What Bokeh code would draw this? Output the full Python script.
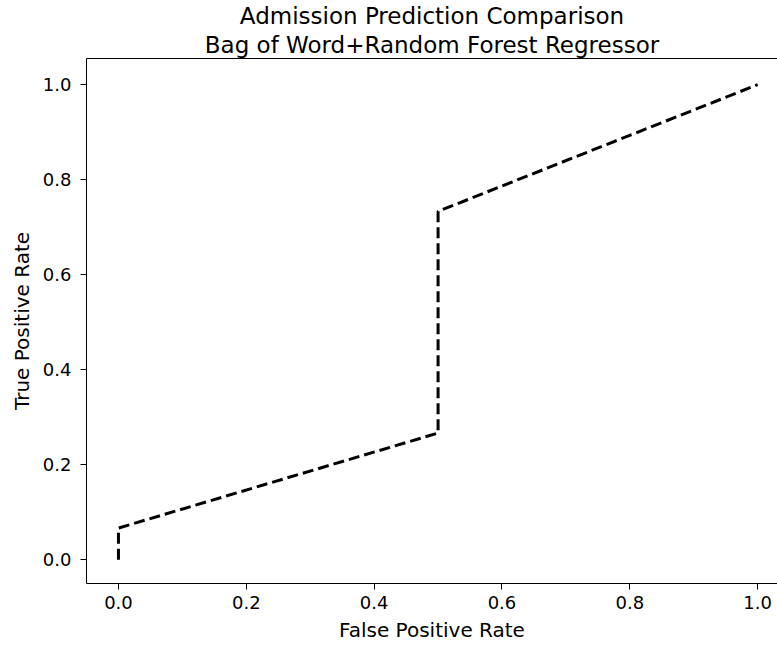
from bokeh.plotting import figure
from bokeh.models import Range1d, FixedTicker, Title, CustomJSTickFormatter, LinearAxis
from bokeh.embed import file_html
from bokeh.resources import INLINE

fpr = [0.0, 0.0, 0.5, 0.5, 1.0]
tpr = [0.0, 0.0667, 0.2667, 0.7333, 1.0]
x_ticks = [0.0, 0.2, 0.4, 0.6, 0.8, 1.0]
y_ticks = [0.0, 0.2, 0.4, 0.6, 0.8, 1.0]
title_lines = ["Admission Prediction Comparison", "Bag of Word+Random Forest Regressor"]

FONT = "DejaVu Sans"

p = figure(frame_width=691, frame_height=525, output_backend="svg", toolbar_location=None,
           x_range=Range1d(-0.05, 1.031), y_range=Range1d(-0.05, 1.055),
           min_border_left=86, min_border_top=7, min_border_right=0, min_border_bottom=20)

xax = p.below[0]
yax = p.left[0]

# top border line of the axes box (right side is cut off by the window)
top = LinearAxis(ticker=FixedTicker(ticks=[]), axis_line_color="black",
                 major_tick_line_color=None, minor_tick_line_color=None,
                 major_tick_out=0, major_label_standoff=0)
p.add_layout(top, "above")

for line in reversed(title_lines):
    t = Title(text=line, align="center", text_font=FONT, text_font_size="23px",
              text_font_style="normal", text_color="black", standoff=1)
    p.add_layout(t, "above")

p.line(fpr, tpr, line_color="black", line_width=3, line_dash="11 5")

p.grid.visible = False
p.outline_line_color = None
p.background_fill_color = "white"
p.border_fill_color = "white"

xax.ticker = FixedTicker(ticks=x_ticks)
yax.ticker = FixedTicker(ticks=y_ticks)
xax.axis_label = "False Positive Rate"
yax.axis_label = "True Positive Rate"
for ax in (xax, yax):
    ax.formatter = CustomJSTickFormatter(code="return tick.toFixed(1);")
    ax.major_label_text_font = FONT
    ax.major_label_text_font_size = "18px"
    ax.major_label_text_color = "black"
    ax.axis_label_text_font = FONT
    ax.axis_label_text_font_size = "20px"
    ax.axis_label_text_font_style = "normal"
    ax.axis_label_text_color = "black"
    ax.axis_line_color = "black"
    ax.major_tick_line_color = "black"
    ax.major_tick_out = 6
    ax.major_tick_in = 0
    ax.minor_tick_line_color = None
    ax.axis_label_standoff = 6
xax.major_label_standoff = 6
yax.major_label_standoff = 9

open("out.html", "w").write(file_html(p, INLINE))
